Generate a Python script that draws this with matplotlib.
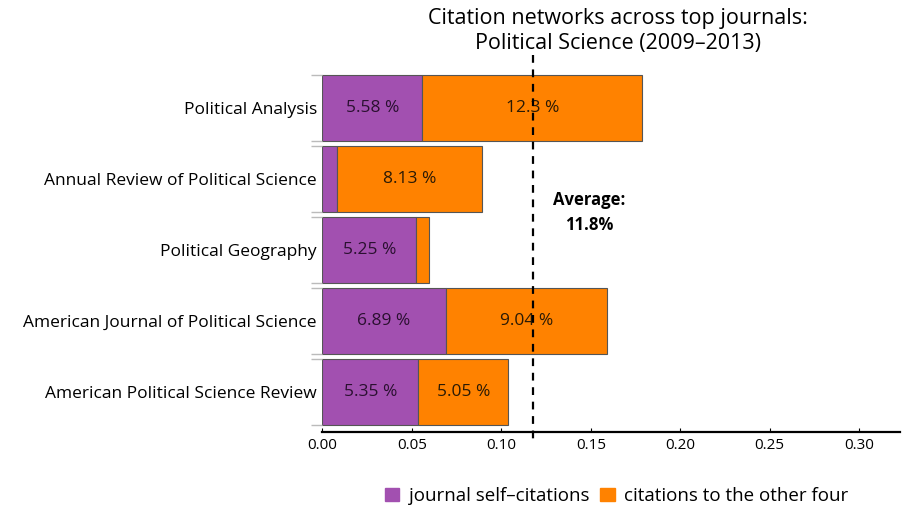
import numpy as np
import matplotlib
matplotlib.use("Agg")
import matplotlib.pyplot as plt
from matplotlib.patches import Patch

# data (bottom to top)
journals = ["American Political Science Review",
            "American Journal of Political Science",
            "Political Geography",
            "Annual Review of Political Science",
            "Political Analysis"]
self_cit = [0.0535, 0.0689, 0.0525, 0.0080, 0.0558]
other_cit = [0.0505, 0.0904, 0.0070, 0.0813, 0.1230]
self_lbl = ["5.35 %", "6.89 %", "5.25 %", "", "5.58 %"]
other_lbl = ["5.05 %", "9.04 %", "", "8.13 %", "12.3 %"]
average = 0.118

PURPLE = "#a250b0"
ORANGE = "#ff8200"
EDGE = "#555555"

plt.rcParams['font.family'] = ['Open Sans', 'DejaVu Sans']

fig = plt.figure(figsize=(9.03, 5.12), dpi=100)
ax = fig.add_axes([0.357, 0.156, 0.640, 0.737])

y = np.arange(len(journals))
h = 0.93
ax.barh(y, self_cit, height=h, color=PURPLE, edgecolor=EDGE, linewidth=0.8)
ax.barh(y, other_cit, left=self_cit, height=h, color=ORANGE,
        edgecolor=EDGE, linewidth=0.8)

for i in range(len(journals)):
    if self_lbl[i]:
        ax.text(self_cit[i] / 2, y[i], self_lbl[i], ha="center", va="center",
                fontsize=12.5, color="#2a1030")
    if other_lbl[i]:
        ax.text(self_cit[i] + other_cit[i] / 2, y[i], other_lbl[i],
                ha="center", va="center", fontsize=12.5, color="#2a1a05")

# average line
ax.plot([average, average], [4.75, -0.74], ls=(0, (3.5, 3)), color="black",
        lw=1.6, clip_on=False, zorder=5)
ax.text(0.149, 2.53, "Average:\n11.8%", ha="center", va="center",
        fontsize=12, fontweight="bold", linespacing=1.45)

ax.set_xlim(0, 0.323)
ax.set_ylim(-0.56, 4.75)
ax.set_xticks([0, 0.05, 0.10, 0.15, 0.20, 0.25, 0.30])
ax.set_xticklabels(["0.00", "0.05", "0.10", "0.15", "0.20", "0.25", "0.30"])
ax.set_yticks(y)
ax.set_yticklabels(journals)
edges = np.concatenate([y - h / 2, y + h / 2])
ax.set_yticks(edges, minor=True)
ax.tick_params(axis="y", which="major", length=0, pad=4, labelsize=12.5)
ax.tick_params(axis="y", which="minor", length=8, color="#bbbbbb", width=1)
ax.tick_params(axis="x", length=3, direction="in", labelsize=11, pad=4)

for s in ["top", "right", "left"]:
    ax.spines[s].set_visible(False)
ax.spines["bottom"].set_linewidth(1.6)

fig.text(0.684, 0.985, "Citation networks across top journals:\nPolitical Science (2009\u20132013)",
         ha="center", va="top", fontsize=15.5, linespacing=1.3)

handles = [Patch(facecolor=PURPLE, edgecolor=PURPLE, label="journal self\u2013citations"),
           Patch(facecolor=ORANGE, edgecolor=ORANGE, label="citations to the other four")]
fig.legend(handles=handles, loc="center", bbox_to_anchor=(0.683, 0.031), ncol=2,
           frameon=False, fontsize=13.5, handlelength=0.75, handleheight=0.75,
           handletextpad=0.5, columnspacing=0.6)

fig.savefig("out.png", dpi=100)
